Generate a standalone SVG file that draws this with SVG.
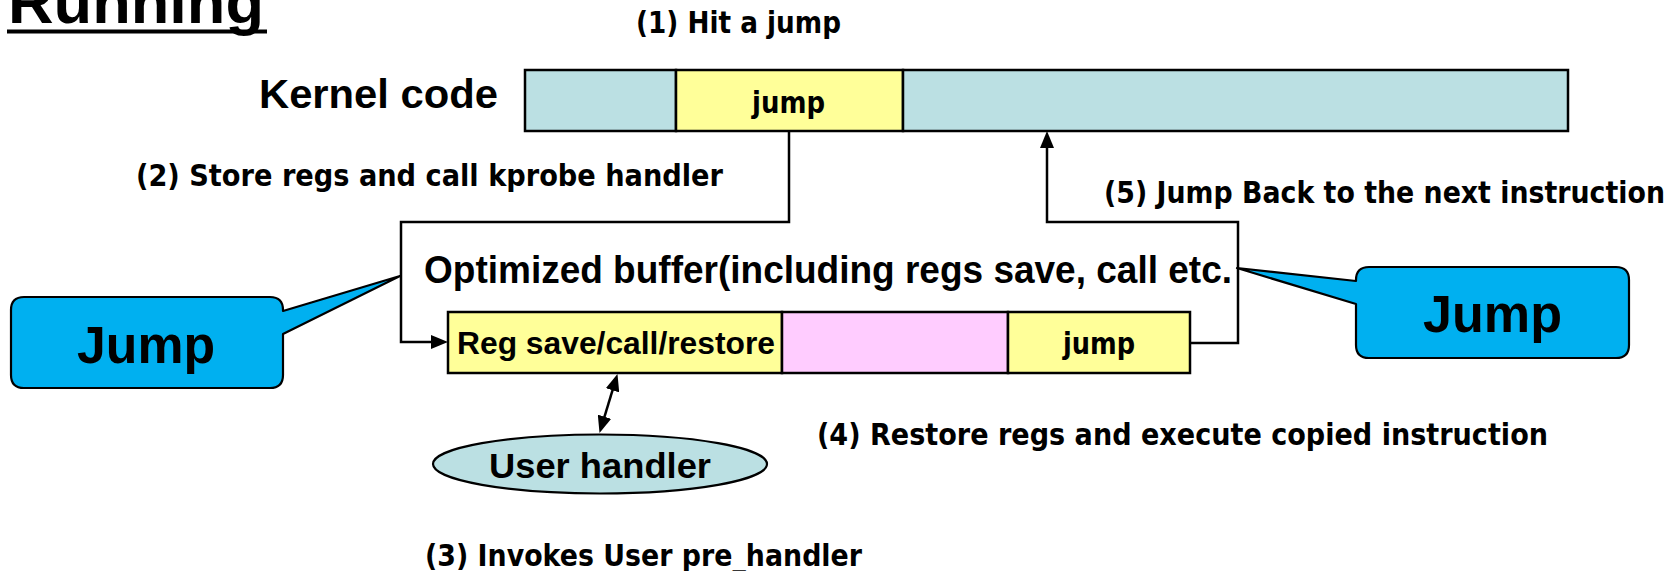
<svg xmlns="http://www.w3.org/2000/svg" width="1676" height="571" viewBox="0 0 1676 571">
<style>
.lbl{font-family:"DejaVu Sans","Liberation Sans",sans-serif;font-weight:bold;font-size:31px;fill:#000}
.ar{font-family:"Liberation Sans",Arial,sans-serif;font-weight:bold;fill:#000}
.box{stroke:#000;stroke-width:2.5}
.blue{fill:#BBE0E3}
.yel{fill:#FFFF99}
.pink{fill:#FFCCFF}
.call{fill:#00B0F0;stroke:#000;stroke-width:2.2;stroke-linejoin:round}
.conn{fill:none;stroke:#000;stroke-width:2.5}
</style>
<defs>
<marker id="ah" markerUnits="userSpaceOnUse" markerWidth="17" markerHeight="14" refX="2" refY="7" orient="auto-start-reverse">
<path d="M0,0 L17,7 L0,14 Z" fill="#000"/>
</marker>
</defs>
<rect width="1676" height="571" fill="#fff"/>

<g id="title">
<text class="ar" x="8" y="23" font-size="62" textLength="256" lengthAdjust="spacingAndGlyphs">Running</text>
<line x1="7" y1="31.5" x2="267" y2="31.5" stroke="#000" stroke-width="4"/>
</g>

<g id="kernel-label">
<text class="ar" x="259" y="108" font-size="41" textLength="239" lengthAdjust="spacingAndGlyphs">Kernel code</text>
</g>

<g id="kernel-code">
<rect class="box blue" x="525" y="70" width="151" height="61"/>
<rect class="box yel" x="676" y="70" width="227" height="61"/>
<rect class="box blue" x="903" y="70" width="665" height="61"/>
<text class="lbl" x="752" y="113" font-size="33" textLength="73" lengthAdjust="spacingAndGlyphs">jump</text>
</g>

<g id="buffer-label">
<text class="ar" x="424" y="283" font-size="38" textLength="808" lengthAdjust="spacingAndGlyphs">Optimized buffer(including regs save, call etc.</text>
</g>

<g id="buffer">
<rect class="box yel" x="448" y="312" width="334" height="61"/>
<rect class="box pink" x="782" y="312" width="226" height="61"/>
<rect class="box yel" x="1008" y="312" width="182" height="61"/>
<text class="ar" x="457" y="354" font-size="32" textLength="318" lengthAdjust="spacingAndGlyphs">Reg save/call/restore</text>
<text class="lbl" x="1063" y="354" font-size="33" textLength="72" lengthAdjust="spacingAndGlyphs">jump</text>
</g>

<g id="user-handler">
<ellipse cx="600" cy="464" rx="167" ry="29.5" fill="#BBE0E3" stroke="#000" stroke-width="2.2"/>
<text class="ar" x="489" y="478" font-size="35" textLength="222" lengthAdjust="spacingAndGlyphs">User handler</text>
</g>

<g id="callout-left">
<path class="call" d="M24,297 H270 Q283,297 283,310 V311 L400,276 L283,334 V375 Q283,388 270,388 H24 Q11,388 11,375 V310 Q11,297 24,297 Z"/>
<text class="ar" x="77" y="363" font-size="51" textLength="138" lengthAdjust="spacingAndGlyphs">Jump</text>
</g>

<g id="callout-right">
<path class="call" d="M1369,267 H1616 Q1629,267 1629,280 V345 Q1629,358 1616,358 H1369 Q1356,358 1356,345 V304 L1237,268 L1356,281 V280 Q1356,267 1369,267 Z"/>
<text class="ar" x="1423" y="332" font-size="51" textLength="139" lengthAdjust="spacingAndGlyphs">Jump</text>
</g>

<g id="connectors">
<path class="conn" d="M789,131 V222 H401 V342 H433" marker-end="url(#ah)"/>
<path class="conn" d="M1190,343 H1238 V222 H1047 V146" marker-end="url(#ah)"/>
<path class="conn" d="M613.1,388.4 L603.9,418.6" marker-start="url(#ah)" marker-end="url(#ah)"/>
</g>

<g id="step-labels">
<text class="lbl" x="636" y="33" textLength="205" lengthAdjust="spacingAndGlyphs">(1) Hit a jump</text>
<text class="lbl" x="136" y="186" textLength="587" lengthAdjust="spacingAndGlyphs">(2) Store regs and call kprobe handler</text>
<text class="lbl" x="1104" y="203" textLength="561" lengthAdjust="spacingAndGlyphs">(5) Jump Back to the next instruction</text>
<text class="lbl" x="817" y="445" textLength="731" lengthAdjust="spacingAndGlyphs">(4) Restore regs and execute copied instruction</text>
<text class="lbl" x="425" y="566" textLength="437" lengthAdjust="spacingAndGlyphs">(3) Invokes User pre_handler</text>
</g>
</svg>
